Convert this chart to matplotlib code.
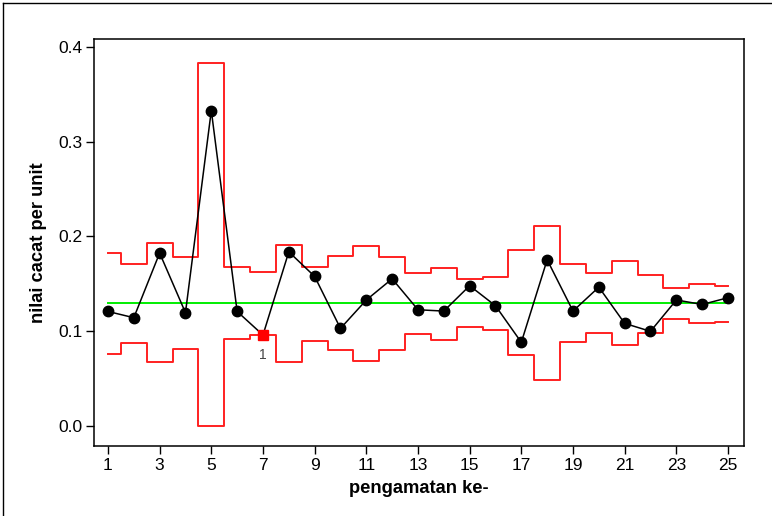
import matplotlib
matplotlib.use("Agg")
import matplotlib.pyplot as plt
from matplotlib.lines import Line2D
import numpy as np

plt.rcParams['font.family'] = ['Liberation Sans', 'DejaVu Sans']

# Data
obs = list(range(1, 26))
u_values = [0.1206, 0.114, 0.1823, 0.1193, 0.3328, 0.1206, 0.0957, 0.1836, 0.1576, 0.1027,
            0.1327, 0.1551, 0.1224, 0.121, 0.1478, 0.1266, 0.088, 0.1752, 0.121, 0.1463,
            0.108, 0.0996, 0.1327, 0.128, 0.1351]
ucl = [0.1823, 0.1706, 0.1924, 0.1777, 0.3828, 0.1678, 0.1625, 0.1907, 0.1678, 0.1791,
       0.1893, 0.1777, 0.1608, 0.1665, 0.1551, 0.1565, 0.1850, 0.2107, 0.1706, 0.1608,
       0.1738, 0.1594, 0.1449, 0.1491, 0.1478]
lcl = [0.0757, 0.0869, 0.0668, 0.0809, 0.0, 0.0911, 0.0957, 0.0668, 0.0897, 0.0795,
       0.0683, 0.0795, 0.0967, 0.0908, 0.1038, 0.1010, 0.0742, 0.0485, 0.0879, 0.0978,
       0.0852, 0.0982, 0.1122, 0.1080, 0.1094]
center = 0.1291
flagged = [7]
flag_label = "1"
xticks = list(range(1, 26, 2))
yticks = [0.0, 0.1, 0.2, 0.3, 0.4]

fig = plt.figure(figsize=(7.72, 5.16), dpi=100)
W, H = 772, 516
ax = fig.add_axes([93.5 / W, 1 - 446 / H, (743.5 - 93.5) / W, (446 - 38.5) / H])

x = np.array(obs)
ax.step(x, ucl, where='mid', color='#ff2020', lw=1.4, zorder=2)
ax.step(x, lcl, where='mid', color='#ff2020', lw=1.4, zorder=2)
ax.plot([x[0], x[-1]], [center, center], color='#00ee00', lw=1.4, zorder=2)
ax.plot(x, u_values, color='black', lw=1.1, zorder=3)

normal = [i for i in range(len(obs)) if obs[i] not in flagged]
ax.plot(x[normal], np.array(u_values)[normal], 'o', color='black', ms=7.5, zorder=4)
for f in flagged:
    i = obs.index(f)
    ax.plot(x[i], u_values[i], 's', color='#ff0000', ms=7, zorder=5)
    ax.annotate(flag_label, (x[i], u_values[i]), xytext=(0, -9), textcoords='offset points',
                ha='center', va='top', fontsize=10, color='#444444')

ax.set_xlim(0.44, 25.6)
ax.set_ylim(-0.0215, 0.4089)
ax.set_xticks(xticks)
ax.set_xticklabels([str(t) for t in xticks])
ax.set_yticks(yticks)
ax.set_yticklabels([f"{t:.1f}" for t in yticks])
ax.tick_params(axis='both', labelsize=12.5, length=6, width=1, color='black')
ax.tick_params(axis='x', pad=3)
ax.tick_params(axis='y', pad=2)
for s in ax.spines.values():
    s.set_linewidth(1.1)

ax.set_xlabel("pengamatan ke-", fontsize=13.2, fontweight='bold', labelpad=5)
ax.set_ylabel("nilai cacat per unit", fontsize=13.2, fontweight='bold', labelpad=8)

# outer frame lines (left and top)
fig.add_artist(Line2D([3.5 / W, 3.5 / W], [0, 1 - 3 / H], transform=fig.transFigure, color='black', lw=1))
fig.add_artist(Line2D([3.5 / W, 1], [1 - 3 / H, 1 - 3 / H], transform=fig.transFigure, color='black', lw=1))

fig.savefig("out.png", dpi=100)
